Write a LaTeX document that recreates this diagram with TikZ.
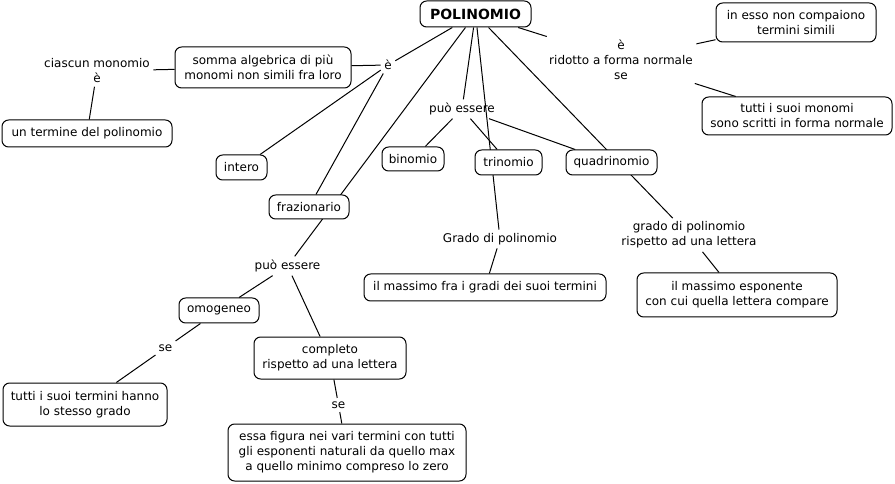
\documentclass[tikz,border=0pt]{standalone}
\usepackage{fontspec}
\setmainfont{DejaVu Sans}
\usetikzlibrary{backgrounds}
\begin{document}
\begin{tikzpicture}[x=0.75pt,y=-0.75pt,
  txt/.style={font=\fontsize{9pt}{11.25pt}\selectfont},
  box/.style={txt,draw,line width=0.75pt,rounded corners=5pt,fill=white,align=center,inner sep=0pt},
  sz/.style 2 args={minimum width=#1*0.75pt,minimum height=#2*0.75pt},
  lab/.style={txt,align=center,inner xsep=2.5pt,inner ysep=2.5pt},
  link/.style={line width=0.75pt}]
\useasboundingbox (0,0) rectangle (895,484);
% concepts
\node[box,sz={111}{26},font=\bfseries\fontsize{10.5pt}{12pt}\selectfont] (poli) at (475.5,14) {POLINOMIO};
\node[box,sz={176}{41}] (somma) at (263,67.5) {somma algebrica di più\\monomi non simili fra loro};
\node[box,sz={170}{27}] (termine) at (87,133.5) {un termine del polinomio};
\node[box,sz={51}{25}] (intero) at (241.5,167.5) {intero};
\node[box,sz={80}{24}] (fraz) at (309,207) {frazionario};
\node[box,sz={62}{24}] (bin) at (413,159) {binomio};
\node[box,sz={67}{25}] (tri) at (508.5,162.5) {trinomio};
\node[box,sz={91}{25}] (quad) at (611.5,162.5) {quadrinomio};
\node[box,sz={160}{39}] (inesso) at (796,22.5) {in esso non compaiono\\termini simili};
\node[box,sz={190}{38}] (tuttimon) at (797,116) {tutti i suoi monomi\\sono scritti in forma normale};
\node[box,sz={242}{27}] (maxfra) at (485,287.5) {il massimo fra i gradi dei suoi termini};
\node[box,sz={200}{44}] (maxesp) at (737,295) {il massimo esponente\\con cui quella lettera compare};
\node[box,sz={80}{25}] (omog) at (219,310.5) {omogeneo};
\node[box,sz={152}{42}] (compl) at (330,358) {completo\\rispetto ad una lettera};
\node[box,sz={164}{43}] (tuttiterm) at (85,404.5) {tutti i suoi termini hanno\\lo stesso grado};
\node[box,sz={238}{57}] (essa) at (347,452.5) {essa figura nei vari termini con tutti\\gli esponenti naturali da quello max\\a quello minimo compreso lo zero};
% linking phrases
\node[lab] (ciascun) at (97,71) {ciascun monomio\\è};
\node[lab] (e1) at (388,65) {è};
\node[lab] (ridotto) at (621,60) {è\\ridotto a forma normale\\se};
\node[lab] (puo1) at (462,109) {può essere};
\node[lab] (grado1) at (500,239) {Grado di polinomio};
\node[lab] (grado2) at (689,235) {grado di polinomio\\rispetto ad una lettera};
\node[lab] (puo2) at (287.5,266) {può essere};
\node[lab] (se1) at (165.5,348) {se};
\node[lab] (se2) at (338.5,405) {se};
% connectors
\begin{pgfonlayer}{background}
\draw[link] (poli) -- (e1);
\draw[link] (e1) -- (somma);
\draw[link] (somma) -- (ciascun);
\draw[link] (ciascun) -- (termine);
\draw[link] (e1) -- (intero);
\draw[link] (e1) -- (fraz);
\draw[link] (poli) -- (puo2);
\draw[link] (poli) -- (puo1);
\draw[link] (puo1) -- (bin);
\draw[link] (puo1) -- (tri);
\draw[link] (puo1) -- (quad);
\draw[link] (poli) -- (grado1);
\draw[link] (grado1) -- (maxfra);
\draw[link] (poli) -- (grado2);
\draw[link] (grado2) -- (maxesp);
\draw[link] (poli) -- (ridotto);
\draw[link] (ridotto) -- (inesso);
\draw[link] (ridotto) -- (tuttimon);
\draw[link] (puo2) -- (omog);
\draw[link] (puo2) -- (compl);
\draw[link] (omog) -- (se1);
\draw[link] (se1) -- (tuttiterm);
\draw[link] (compl) -- (se2);
\draw[link] (se2) -- (essa);
\end{pgfonlayer}
\end{tikzpicture}
\end{document}
